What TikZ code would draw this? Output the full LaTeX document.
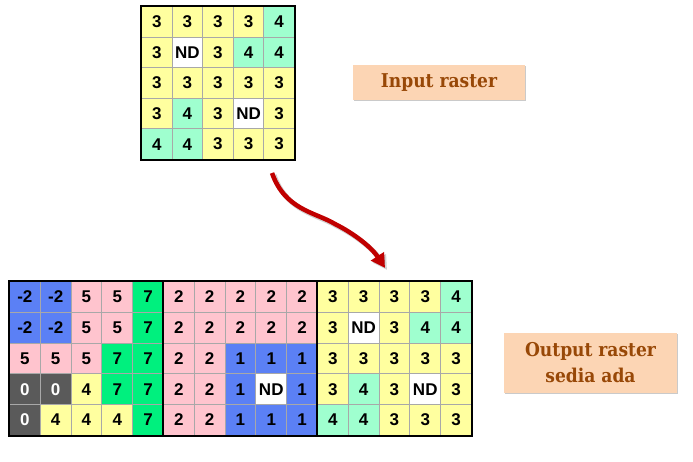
\documentclass[tikz,border=0pt]{standalone}
\usepackage{fontspec}
\newfontfamily\cellfont{Liberation Sans}
\newfontfamily\lblfont{DejaVu Serif Condensed}
\usetikzlibrary{arrows.meta,shadows}
\definecolor{cyel}{HTML}{FFFF9F}
\definecolor{cmint}{HTML}{9FFFCF}
\definecolor{cpink}{HTML}{FFC4CE}
\definecolor{cblue}{HTML}{5B80F5}
\definecolor{cgreen}{HTML}{00F07E}
\definecolor{cdark}{HTML}{5A5A5A}
\definecolor{cgrid}{HTML}{A8A8A8}
\definecolor{lblfill}{HTML}{FCD5B4}
\definecolor{lbltext}{HTML}{984807}
\definecolor{arrowred}{HTML}{C00000}
\tikzset{
  cell/.style={draw=cgrid, line width=0.9pt, inner sep=0pt, anchor=north west,
    font=\cellfont\bfseries\fontsize{17}{17}\selectfont},
  gridborder/.style={draw=black, line width=1.3pt},
  labelbox/.style={fill=lblfill, draw=none, text=lbltext, align=center,
    font=\lblfont\bfseries\fontsize{19}{26}\selectfont,
    drop shadow={shadow xshift=1.2pt, shadow yshift=-1.2pt, opacity=.35, fill=black!60}},
  redarrow/.style={draw=arrowred, line width=4.5pt, -{Triangle[length=14pt,width=15pt]}},
  arrowshadow/.style={draw=black, opacity=.18, line width=5pt, -{Triangle[length=14pt,width=15pt]}},
}
\newcommand{\rgrid}[5]{%
  \foreach \v/\c [count=\i from 0] in {#5} {
    \pgfmathtruncatemacro\rr{int(\i/5)}
    \pgfmathtruncatemacro\kk{mod(\i,5)}
    \node[cell, fill=\c, minimum width=#4pt, minimum height=#4pt]
      (#1-\rr-\kk) at ({#2+\kk*#4},{#3+\rr*#4}) {\v};
  }
  \draw[gridborder] (#1-0-0.north west) rectangle (#1-4-4.south east);
}
\begin{document}
\begin{tikzpicture}[x=1pt,y=-1pt]
\useasboundingbox (0,0) rectangle (693,461);
% input raster
\rgrid{in}{141}{6}{30.6}{3/cyel,3/cyel,3/cyel,3/cyel,4/cmint,
 3/cyel,ND/white,3/cyel,4/cmint,4/cmint,
 3/cyel,3/cyel,3/cyel,3/cyel,3/cyel,
 3/cyel,4/cmint,3/cyel,ND/white,3/cyel,
 4/cmint,4/cmint,3/cyel,3/cyel,3/cyel}
% output left
\rgrid{oa}{9}{281}{30.8}{-2/cblue,-2/cblue,5/cpink,5/cpink,7/cgreen,
 -2/cblue,-2/cblue,5/cpink,5/cpink,7/cgreen,
 5/cpink,5/cpink,5/cpink,7/cgreen,7/cgreen,
 {\color{white}0}/cdark,{\color{white}0}/cdark,4/cyel,7/cgreen,7/cgreen,
 {\color{white}0}/cdark,4/cyel,4/cyel,4/cyel,7/cgreen}
% output middle
\rgrid{ob}{163}{281}{30.8}{2/cpink,2/cpink,2/cpink,2/cpink,2/cpink,
 2/cpink,2/cpink,2/cpink,2/cpink,2/cpink,
 2/cpink,2/cpink,1/cblue,1/cblue,1/cblue,
 2/cpink,2/cpink,1/cblue,ND/white,1/cblue,
 2/cpink,2/cpink,1/cblue,1/cblue,1/cblue}
% output right
\rgrid{oc}{317}{281}{30.8}{3/cyel,3/cyel,3/cyel,3/cyel,4/cmint,
 3/cyel,ND/white,3/cyel,4/cmint,4/cmint,
 3/cyel,3/cyel,3/cyel,3/cyel,3/cyel,
 3/cyel,4/cmint,3/cyel,ND/white,3/cyel,
 4/cmint,4/cmint,3/cyel,3/cyel,3/cyel}
% labels
\node[labelbox, minimum width=172pt, minimum height=35pt] (inlbl) at (439,82.5) {Input raster};
\node[labelbox, minimum width=173pt, minimum height=60pt] (outlbl) at (590.5,363) {Output raster\\sedia ada};
% arrow
\coordinate (astart) at (272,173);
\coordinate (aend) at (385,268);
\coordinate (astartS) at (274,175);
\coordinate (aendS) at (387,270);
\draw[arrowshadow] (astartS) .. controls (287,212) and (317,214) .. (337,226) .. controls (357,236) and (374,250) .. (aendS);
\draw[redarrow] (astart) .. controls (285,210) and (315,212) .. (335,224) .. controls (355,234) and (372,248) .. (aend);
\end{tikzpicture}
\end{document}
